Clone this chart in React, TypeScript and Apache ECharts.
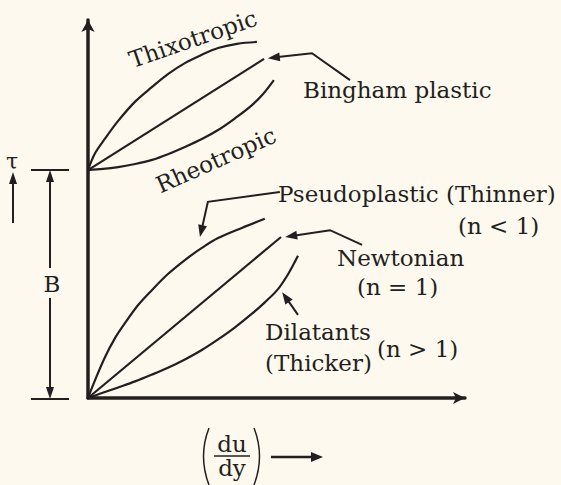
import React, { useEffect, useRef } from "react";
import * as echarts from "echarts";

// ---- data (x: shear rate du/dy, y: shear stress tau, arbitrary units) ----
const yieldStress = 6.03;
const thixotropic = [[0, 6.03], [0.19, 6.48], [0.45, 6.86], [0.8, 7.33], [1.25, 7.84], [1.7, 8.23], [2.12, 8.57], [2.57, 8.86], [3.02, 9.08], [3.45, 9.26], [3.95, 9.37], [4.48, 9.42]];
const bingham = [[0, 6.03], [4.67, 8.97]];
const rheotropic = [[0, 6.03], [0.4, 6.06], [0.8, 6.11], [1.25, 6.19], [1.7, 6.3], [2.12, 6.45], [2.57, 6.64], [3.02, 6.85], [3.45, 7.09], [3.9, 7.4], [4.35, 7.75], [4.65, 8.05], [4.93, 8.41]];
const pseudoplastic = [[0, 0], [0.19, 0.48], [0.45, 1.08], [0.72, 1.59], [0.98, 1.98], [1.33, 2.46], [1.7, 2.86], [2.12, 3.28], [2.57, 3.65], [3.02, 3.97], [3.45, 4.23], [4.08, 4.5], [4.69, 4.74]];
const newtonian = [[0, 0], [5.12, 4.26]];
const dilatant = [[0, 0], [0.37, 0.13], [0.8, 0.28], [1.25, 0.44], [1.7, 0.62], [2.12, 0.8], [2.57, 1.02], [3.02, 1.27], [3.45, 1.55], [3.9, 1.87], [4.35, 2.23], [4.69, 2.53], [5.04, 2.88], [5.31, 3.28], [5.57, 3.76]];

// annotation leader arrows (data coords, last point = arrow tip)
const binghamPointer = [[6.95, 8.41], [5.94, 9.12], [4.77, 8.99]];
const pseudoPointer = [[5.09, 5.45], [3.18, 5.19], [2.97, 4.26]];
const newtonPointer = [[7.27, 4.05], [6.42, 4.44], [5.23, 4.26]];
const dilatantPointer = [[5.57, 2.2], [5.15, 2.8]];

const ink = "#231f20";
const bg = "#fdf9ee";
const ff = '"DejaVu Serif", serif';

function curve(name: string, data: number[][]) {
  return {
    name,
    type: "line",
    data,
    smooth: 0.35,
    symbol: "none",
    lineStyle: { color: ink, width: 2.2 },
    z: 3,
  };
}

function label(text: string, x: number, y: number, align = "left", size = 23, rot = 0) {
  return {
    type: "text",
    x,
    y,
    rotation: (rot * Math.PI) / 180,
    style: {
      text,
      fill: ink,
      font: `${size}px ${ff}`,
      textAlign: align,
      textVerticalAlign: "middle",
    },
    z: 10,
  };
}

export default function App() {
  const ref = useRef<HTMLDivElement>(null);
  useEffect(() => {
    document.body.style.margin = "0";
    const chart = echarts.init(ref.current!, null, { renderer: "svg" });
    const axisCommon = {
      type: "value",
      min: 0,
      max: 10,
      axisTick: { show: false },
      axisLabel: { show: false },
      splitLine: { show: false },
    };
    chart.setOption({
      animation: false,
      backgroundColor: bg,
      grid: { left: 88, top: 20, width: 377, height: 378 },
      xAxis: {
        ...axisCommon,
        axisLine: { show: true, symbol: ["none", "arrow"], symbolSize: [9, 12], lineStyle: { color: ink, width: 3.5 } },
      },
      yAxis: {
        ...axisCommon,
        axisLine: { show: true, symbol: ["none", "arrow"], symbolSize: [10, 12], lineStyle: { color: ink, width: 3.5 } },
      },
      series: [
        curve("Thixotropic", thixotropic),
        curve("Bingham plastic", bingham),
        curve("Rheotropic", rheotropic),
        curve("Pseudoplastic", pseudoplastic),
        curve("Newtonian", newtonian),
        curve("Dilatants", dilatant),
      ],
    });

    const px = (p: number[]) => chart.convertToPixel({ gridIndex: 0 }, p) as number[];
    const [, yB] = px([0, yieldStress]);
    const [, y0] = px([0, 0]);
    const bx = 50;
    const tri = (x: number, y: number, dir: number) => ({
      type: "polygon",
      shape: { points: [[x, y], [x - 4, y + dir * 12], [x + 4, y + dir * 12]] },
      style: { fill: ink },
      z: 10,
    });
    const seg = (x1: number, y1: number, x2: number, y2: number, w = 2) => ({
      type: "line",
      shape: { x1, y1, x2, y2 },
      style: { stroke: ink, lineWidth: w },
      z: 10,
    });
    const pointer = (coords: number[][]) => {
      const pts = coords.map(px);
      const tip = pts[pts.length - 1];
      const prev = pts[pts.length - 2];
      const dx = tip[0] - prev[0];
      const dy = tip[1] - prev[1];
      const len = Math.hypot(dx, dy);
      const ux = dx / len;
      const uy = dy / len;
      const L = 12;
      const W = 4.5;
      const base = [tip[0] - ux * L, tip[1] - uy * L];
      const linePts = pts.slice(0, -1).concat([[tip[0] - ux * (L - 2), tip[1] - uy * (L - 2)]]);
      return [
        { type: "polyline", shape: { points: linePts }, style: { stroke: ink, lineWidth: 2, fill: null }, z: 10 },
        {
          type: "polygon",
          shape: { points: [tip, [base[0] - uy * W, base[1] + ux * W], [base[0] + uy * W, base[1] - ux * W]] },
          style: { fill: ink },
          z: 10,
        },
      ];
    };

    chart.setOption({
      graphic: [
        ...pointer(binghamPointer),
        ...pointer(pseudoPointer),
        ...pointer(newtonPointer),
        ...pointer(dilatantPointer),
        // B dimension
        seg(31, yB, 69, yB),
        seg(31, y0 + 1, 69, y0 + 1),
        seg(bx, yB + 6, bx, 268),
        seg(bx, 298, bx, y0 - 5),
        tri(bx, yB, 1),
        tri(bx, y0 + 1, -1),
        label("B", bx + 2, 284, "center"),
        // tau arrow
        seg(13, 223, 13, 178),
        tri(13, 172, 1),
        label("τ", 12, 161, "center", 22),
        // du/dy
        label("du", 232, 444, "center"),
        label("dy", 232, 468, "center"),
        seg(214, 456, 250, 456, 1.3),
        {
          type: "bezierCurve",
          shape: { x1: 209, y1: 428, x2: 209, y2: 485, cpx1: 198, cpy1: 456 },
          style: { stroke: ink, lineWidth: 1.5, fill: null },
          z: 10,
        },
        {
          type: "bezierCurve",
          shape: { x1: 254, y1: 428, x2: 254, y2: 485, cpx1: 265, cpy1: 456 },
          style: { stroke: ink, lineWidth: 1.5, fill: null },
          z: 10,
        },
        seg(271, 457, 314, 457, 2.5),
        {
          type: "polygon",
          shape: { points: [[323, 457], [311, 452], [311, 462]] },
          style: { fill: ink },
          z: 10,
        },
        // curve labels
        label("Thixotropic", 193, 39, "center", 23, 19),
        label("Rheotropic", 216, 160, "center", 23, 24),
        label("Bingham plastic", 303, 90),
        label("Pseudoplastic (Thinner)", 278, 194),
        label("(n < 1)", 458, 226),
        label("Newtonian", 337, 258),
        label("(n = 1)", 357, 287),
        label("Dilatants", 265, 332),
        label("(Thicker)", 265, 363),
        label("(n > 1)", 377, 349),
      ],
    });
    return () => chart.dispose();
  }, []);
  return <div ref={ref} style={{ width: 561, height: 485, background: bg }} />;
}
